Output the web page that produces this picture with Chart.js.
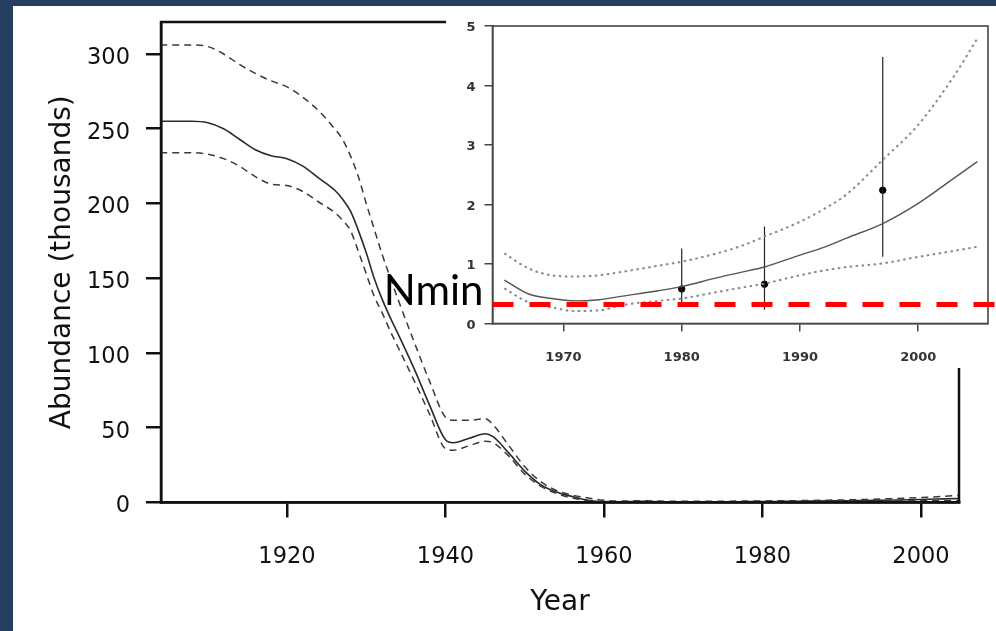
<!DOCTYPE html>
<html><head><meta charset="utf-8">
<script src="https://cdn.jsdelivr.net/npm/chart.js@4.4.1/dist/chart.umd.min.js"></script>
<style>
html,body{margin:0;padding:0;background:#fff;width:996px;height:631px;overflow:hidden;position:relative}
#main{position:absolute;left:0;top:0;width:996px;height:631px}
#inset{position:absolute;left:370px;top:6px;width:626px;height:364px}
.navy{position:absolute;background:#253d5e}
</style></head><body>
<canvas id="main" width="996" height="631"></canvas>
<canvas id="inset" width="626" height="364"></canvas>
<div class="navy" style="left:0;top:0;width:13px;height:631px"></div>
<div class="navy" style="left:0;top:0;width:996px;height:6px"></div>
<script>
// ---------- main chart data (thousands) ----------
const MAIN_YEARS  = [1904,1908,1910,1912,1914,1916,1918,1920,1922,1924,1926,1927,1928,1929,1930,1931,1932,1933,1934,1936,1938,1940,1941,1943,1945,1946,1948,1950,1952,1954,1956,1958,1960,1962];
const MAIN_MEDIAN = [255,255,254,250,243,236,232,230,225,217,209,203,195,182,167,150,136,124,113,90,65,42,40,43,46,44,33,21,12,7,4,1.5,0.6,0.5];
const MAIN_UPPER  = [306,306,305,300,293,287,282,278,271,262,250,243,232,218,200,183,166,151,136,108,81,57,55,55,56,52,38,24,14,8,5,3,1.5,1.0];
const MAIN_LOWER  = [234,234,233,230,225,218,213,212,208,201,194,189,182,168,153,138,127,115,104,82,59,36,35,38,41,40,31,19,11,6,3,1,0.4,0.3];

// ---------- inset data (thousands) ----------
const INSET_YEARS  = [1965,1967,1969,1971,1973,1975,1978,1980,1983,1985,1987,1990,1992,1994,1997,2000,2003,2005];
const INSET_MEDIAN = [0.73,0.50,0.42,0.38,0.40,0.46,0.55,0.62,0.77,0.86,0.95,1.15,1.28,1.44,1.68,2.02,2.44,2.72];
const INSET_UPPER  = [1.18,0.93,0.81,0.79,0.81,0.87,0.97,1.04,1.18,1.30,1.46,1.71,1.92,2.18,2.75,3.34,4.15,4.79];
const INSET_LOWER  = [0.59,0.36,0.27,0.21,0.22,0.31,0.38,0.42,0.53,0.60,0.67,0.81,0.89,0.95,1.01,1.12,1.22,1.29];

const SURVEY_YEARS = [1980,1987,1997];
const SURVEY_EST   = [0.58,0.66,2.24];
const SURVEY_LO    = [0.30,0.23,1.12];
const SURVEY_HI    = [1.26,1.63,4.48];

const NMIN = 0.32;
const NMIN_LABEL = 'Nmin';

const MAIN_X_TICKS = [1920,1940,1960,1980,2000];
const MAIN_Y_TICKS = [0,50,100,150,200,250,300];
const INSET_X_TICKS = [1970,1980,1990,2000];
const INSET_Y_TICKS = [0,1,2,3,4,5];

const pts = (xs, ys) => xs.map((x,i)=>({x, y:ys[i]}));
const mainYears = MAIN_YEARS.concat(INSET_YEARS);

const framePlugin = {
  id:'frame',
  afterDraw(c, args, o){
    const {ctx, chartArea:a} = c;
    ctx.save(); ctx.strokeStyle=o.color; ctx.lineWidth=o.width;
    ctx.strokeRect(a.left, a.top, a.right-a.left, a.bottom-a.top);
    ctx.restore();
  }
};
const noPad = s => { s.paddingTop=0; s.paddingBottom=0; s.paddingLeft=0; s.paddingRight=0; };

const TXT = '#111';

new Chart(document.getElementById('main'), {
  type:'line',
  data:{ datasets:[
    {data:pts(mainYears, MAIN_UPPER.concat(INSET_UPPER)), borderColor:'#3a3a3a', borderWidth:1.5, borderDash:[7,5], pointRadius:0, cubicInterpolationMode:'monotone'},
    {data:pts(mainYears, MAIN_LOWER.concat(INSET_LOWER)), borderColor:'#3a3a3a', borderWidth:1.5, borderDash:[7,5], pointRadius:0, cubicInterpolationMode:'monotone'},
    {data:pts(mainYears, MAIN_MEDIAN.concat(INSET_MEDIAN)), borderColor:'#2a2a2a', borderWidth:1.6, pointRadius:0, cubicInterpolationMode:'monotone'}
  ]},
  options:{
    responsive:false, animation:false, devicePixelRatio:1,
    layout:{padding:{left:0, top:22, right:37, bottom:0}},
    plugins:{legend:{display:false}, tooltip:{enabled:false}, frame:{color:'#111', width:2.5}},
    scales:{
      x:{type:'linear', min:1904.1, max:2004.8,
        afterBuildTicks:s=>{s.ticks = MAIN_X_TICKS.map(v=>({value:v}));},
        afterFit:s=>{s.height = 128.5; noPad(s);},
        grid:{drawOnChartArea:false, tickLength:15, tickColor:'#111', lineWidth:2.5},
        border:{display:true, color:'#111', width:2.5},
        ticks:{callback:v=>String(v), color:TXT, font:{family:'DejaVu Sans', size:22.5}, padding:26, maxRotation:0},
        title:{display:true, text:'Year', color:TXT, font:{family:'DejaVu Sans', size:28}, padding:{top:0,bottom:11}}
      },
      y:{type:'linear', min:0, max:321.4,
        afterBuildTicks:s=>{s.ticks = MAIN_Y_TICKS.map(v=>({value:v}));},
        afterFit:s=>{s.width = 161; noPad(s);},
        grid:{drawOnChartArea:false, tickLength:15, tickColor:'#111', lineWidth:2.5},
        border:{display:true, color:'#111', width:2.5},
        ticks:{callback:v=>String(v), color:TXT, font:{family:'DejaVu Sans', size:22.5}, padding:16, labelOffset:4},
        title:{display:true, text:'Abundance (thousands)', color:TXT, font:{family:'DejaVu Sans', size:28}, padding:{top:46,bottom:0}}
      }
    }
  },
  plugins:[framePlugin]
});

// ---------- inset ----------
const insetBg = {
  id:'insetBg',
  beforeDraw(c){
    const ctx=c.ctx; ctx.save(); ctx.fillStyle='#fff';
    ctx.fillRect(76, 0, c.width-76, 362); ctx.restore();
  }
};
const nminPlugin = {
  id:'nmin',
  afterDraw(c){
    const {ctx, chartArea:a} = c;
    const y = c.scales.y.getPixelForValue(NMIN);
    ctx.save();
    ctx.strokeStyle='#ff0000'; ctx.lineWidth=5; ctx.setLineDash([21,16]);
    ctx.beginPath(); ctx.moveTo(a.left, y); ctx.lineTo(c.width, y); ctx.stroke();
    ctx.setLineDash([]);
    ctx.fillStyle='#000'; ctx.font='42px Lato'; ctx.textAlign='right'; ctx.textBaseline='alphabetic';
    ctx.fillText(NMIN_LABEL, a.left-9, y+1);
    ctx.restore();
  }
};
const errData = [];
SURVEY_YEARS.forEach((x,i)=>{ errData.push({x, y:SURVEY_LO[i]}, {x, y:SURVEY_HI[i]}, {x, y:null}); });
const ITXT = '#333';
new Chart(document.getElementById('inset'), {
  type:'line',
  data:{ datasets:[
    {data:pts(INSET_YEARS, INSET_UPPER), borderColor:'#8a8a8a', borderWidth:2, borderDash:[2.5,3.5], pointRadius:0, cubicInterpolationMode:'monotone'},
    {data:pts(INSET_YEARS, INSET_LOWER), borderColor:'#8a8a8a', borderWidth:2, borderDash:[2.5,3.5], pointRadius:0, cubicInterpolationMode:'monotone'},
    {data:pts(INSET_YEARS, INSET_MEDIAN), borderColor:'#555', borderWidth:1.4, pointRadius:0, cubicInterpolationMode:'monotone'},
    {data:errData, borderColor:'#222', borderWidth:1.2, pointRadius:0, spanGaps:false},
    {data:pts(SURVEY_YEARS, SURVEY_EST), showLine:false, pointRadius:3.2, pointBackgroundColor:'#000', pointBorderColor:'#000'}
  ]},
  options:{
    responsive:false, animation:false, devicePixelRatio:1,
    layout:{padding:{left:0, top:20, right:8, bottom:0}},
    plugins:{legend:{display:false}, tooltip:{enabled:false}, frame:{color:'#444', width:1.6}},
    scales:{
      x:{type:'linear', min:1964, max:2005.9,
        afterBuildTicks:s=>{s.ticks = INSET_X_TICKS.map(v=>({value:v}));},
        afterFit:s=>{s.height = 46.5; noPad(s);},
        grid:{drawOnChartArea:false, tickLength:8, tickColor:'#444', lineWidth:1.5},
        border:{display:true, color:'#444', width:1.6},
        ticks:{callback:v=>String(v), color:ITXT, font:{family:'DejaVu Sans', size:13, weight:'bold'}, padding:18, maxRotation:0}
      },
      y:{type:'linear', min:0, max:5,
        afterBuildTicks:s=>{s.ticks = INSET_Y_TICKS.map(v=>({value:v}));},
        afterFit:s=>{s.width = 122.5; noPad(s);},
        grid:{drawOnChartArea:false, tickLength:8, tickColor:'#444', lineWidth:1.5},
        border:{display:true, color:'#444', width:1.6},
        ticks:{callback:v=>String(v), color:ITXT, font:{family:'DejaVu Sans', size:13, weight:'bold'}, padding:9, labelOffset:2}
      }
    }
  },
  plugins:[insetBg, framePlugin, nminPlugin]
});
</script>
</body></html>
